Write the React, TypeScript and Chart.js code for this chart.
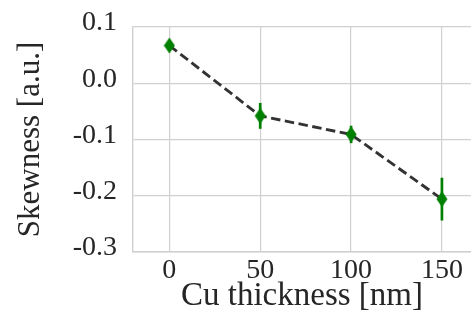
import React, { useEffect, useRef } from "react";
import { Chart, registerables } from "chart.js";

Chart.register(...registerables);

const thickness = [0, 50, 100, 150];
const skewness = [0.067, -0.058, -0.091, -0.206];
const skewErr = [0.008, 0.023, 0.0155, 0.038];
const xTicks = [0, 50, 100, 150];
const yTicks = [-0.3, -0.2, -0.1, 0.0, 0.1];

const GREEN = "#008000";
const TEXT = "#262626";
const GRID = "#d0d0d0";
const FONT = "'Liberation Serif', 'Times New Roman', serif";

function makeDiamond(): HTMLCanvasElement {
  const c = document.createElement("canvas");
  c.width = 12;
  c.height = 17;
  const g = c.getContext("2d")!;
  g.fillStyle = GREEN;
  g.beginPath();
  g.moveTo(6, 0.5);
  g.lineTo(11.5, 8.5);
  g.lineTo(6, 16.5);
  g.lineTo(0.5, 8.5);
  g.closePath();
  g.fill();
  return c;
}

const errorBarPlugin = {
  id: "errorBars",
  afterDatasetsDraw(chart: any) {
    const { ctx, scales } = chart;
    const xs = scales.x;
    const ys = scales.y;
    ctx.save();
    ctx.strokeStyle = GREEN;
    ctx.lineWidth = 2.7;
    ctx.lineCap = "butt";
    thickness.forEach((t, i) => {
      const px = xs.getPixelForValue(t);
      const top = ys.getPixelForValue(skewness[i] + skewErr[i]);
      const bot = ys.getPixelForValue(skewness[i] - skewErr[i]);
      ctx.beginPath();
      ctx.moveTo(px, top);
      ctx.lineTo(px, bot);
      ctx.stroke();
    });
    ctx.restore();
  },
};

export default function App() {
  const ref = useRef<HTMLCanvasElement>(null);

  useEffect(() => {
    if (!ref.current) return;
    const diamond = makeDiamond();
    const chart = new Chart(ref.current, {
      type: "line",
      data: {
        datasets: [
          {
            data: thickness.map((t, i) => ({ x: t, y: skewness[i] })),
            borderColor: "#333333",
            borderWidth: 2.9,
            borderDash: [9.5, 4.5],
            pointStyle: diamond as any,
            pointRadius: 8,
            fill: false,
            tension: 0,
          },
        ],
      },
      options: {
        animation: false,
        responsive: true,
        maintainAspectRatio: false,
        layout: { autoPadding: false, padding: { top: 27, right: 0, bottom: 0, left: 0 } },
        plugins: {
          legend: { display: false },
          tooltip: { enabled: false },
        },
        scales: {
          x: {
            type: "linear",
            min: -20,
            max: 166,
            afterBuildTicks: (s: any) => {
              s.ticks = xTicks.map((v) => ({ value: v }));
            },
            afterFit: (s: any) => {
              s.height = 68;
              s.paddingLeft = 0;
              s.paddingRight = 0;
            },
            grid: { color: GRID, lineWidth: 1.2, drawTicks: false },
            border: { color: GRID, width: 1.4 },
            ticks: {
              padding: 2,
              color: TEXT,
              font: { family: FONT, size: 28 },
              maxRotation: 0,
              callback: (v: any) => String(v),
            },
            title: {
              display: true,
              text: "Cu thickness [nm]",
              color: TEXT,
              font: { family: FONT, size: 33 },
              padding: { top: 0, bottom: 4 },
            },
          },
          y: {
            type: "linear",
            min: -0.3,
            max: 0.1,
            afterBuildTicks: (s: any) => {
              s.ticks = yTicks.map((v) => ({ value: v }));
            },
            afterFit: (s: any) => {
              s.width = 133;
              s.paddingTop = 0;
              s.paddingBottom = 0;
            },
            grid: { color: GRID, lineWidth: 1.2, drawTicks: false },
            border: { color: GRID, width: 1.4 },
            ticks: {
              padding: 16,
              labelOffset: -4,
              color: TEXT,
              font: { family: FONT, size: 28 },
              callback: (v: any) => Number(v).toFixed(1),
            },
            title: {
              display: true,
              text: "Skewness [a.u.]",
              color: TEXT,
              font: { family: FONT, size: 31 },
              padding: { top: 12, bottom: 0 },
            },
          },
        },
      },
      plugins: [errorBarPlugin],
    });
    return () => chart.destroy();
  }, []);

  return (
    <div style={{ position: "absolute", left: 0, top: 0, width: 471, height: 320 }}>
      <canvas ref={ref} />
    </div>
  );
}
